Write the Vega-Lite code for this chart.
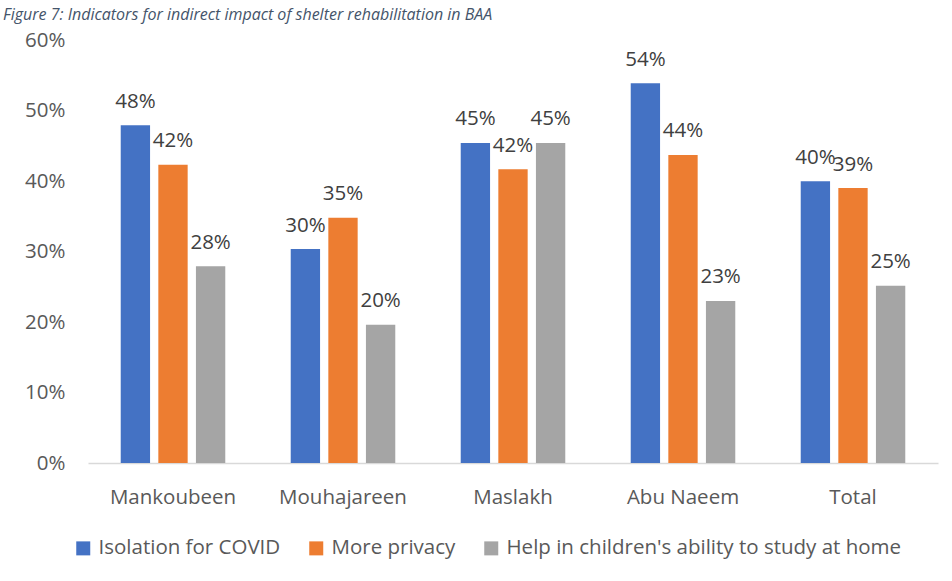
{
  "$schema": "https://vega.github.io/schema/vega-lite/v6.json",
  "width": 850,
  "height": 423,
  "autosize": {"type": "none"},
  "padding": {"left": 88, "top": 40, "right": 14, "bottom": 118},
  "background": "white",
  "title": {
    "text": "Figure 7: Indicators for indirect impact of shelter rehabilitation in BAA",
    "anchor": "start",
    "frame": "group",
    "dx": -85,
    "offset": -6,
    "font": "Open Sans",
    "fontStyle": "italic",
    "fontWeight": "normal",
    "fontSize": 16,
    "color": "#44546A",
    "baseline": "alphabetic"
  },
  "config": {
    "view": {"stroke": null},
    "legend": {
      "orient": "none",
      "legendX": -15,
      "legendY": 498,
      "direction": "horizontal",
      "title": null,
      "symbolType": "square",
      "symbolSize": 196,
      "symbolStrokeWidth": 0,
      "labelFont": "Open Sans",
      "labelFontSize": 20.5,
      "labelColor": "#595959",
      "labelOffset": 5,
      "columnPadding": 25,
      "labelLimit": 600,
      "padding": 0
    }
  },
  "data": {
    "values": [
      {"site": "Mankoubeen", "indicator": "Isolation for COVID", "value": 0.479},
      {"site": "Mankoubeen", "indicator": "More privacy", "value": 0.423},
      {"site": "Mankoubeen", "indicator": "Help in children's ability to study at home", "value": 0.279},
      {"site": "Mouhajareen", "indicator": "Isolation for COVID", "value": 0.3035},
      {"site": "Mouhajareen", "indicator": "More privacy", "value": 0.348},
      {"site": "Mouhajareen", "indicator": "Help in children's ability to study at home", "value": 0.196},
      {"site": "Maslakh", "indicator": "Isolation for COVID", "value": 0.454},
      {"site": "Maslakh", "indicator": "More privacy", "value": 0.4165},
      {"site": "Maslakh", "indicator": "Help in children's ability to study at home", "value": 0.454},
      {"site": "Abu Naeem", "indicator": "Isolation for COVID", "value": 0.5385},
      {"site": "Abu Naeem", "indicator": "More privacy", "value": 0.437},
      {"site": "Abu Naeem", "indicator": "Help in children's ability to study at home", "value": 0.2298},
      {"site": "Total", "indicator": "Isolation for COVID", "value": 0.3995},
      {"site": "Total", "indicator": "More privacy", "value": 0.39},
      {"site": "Total", "indicator": "Help in children's ability to study at home", "value": 0.2515}
    ]
  },
  "encoding": {
    "x": {
      "field": "site",
      "type": "nominal",
      "sort": ["Mankoubeen", "Mouhajareen", "Maslakh", "Abu Naeem", "Total"],
      "scale": {"paddingInner": 0.385, "paddingOuter": 0.1925},
      "axis": {
        "title": null,
        "labelAngle": 0,
        "ticks": false,
        "domainColor": "#d9d9d9",
        "domainWidth": 1.5,
        "labelPadding": 24,
        "labelFont": "Open Sans",
        "labelFontSize": 20.5,
        "labelColor": "#595959"
      }
    },
    "xOffset": {
      "field": "indicator",
      "type": "nominal",
      "sort": ["Isolation for COVID", "More privacy", "Help in children's ability to study at home"],
      "scale": {"paddingInner": 0.22, "paddingOuter": 0}
    },
    "y": {
      "field": "value",
      "type": "quantitative",
      "scale": {"domain": [0, 0.6], "nice": false},
      "axis": {
        "title": null,
        "values": [0, 0.1, 0.2, 0.3, 0.4, 0.5, 0.6],
        "format": ".0%",
        "domain": false,
        "ticks": false,
        "grid": false,
        "labelPadding": 23,
        "labelFont": "Open Sans",
        "labelFontSize": 20.5,
        "labelColor": "#595959"
      }
    }
  },
  "layer": [
    {
      "mark": {"type": "bar"},
      "encoding": {
        "color": {
          "field": "indicator",
          "type": "nominal",
          "sort": ["Isolation for COVID", "More privacy", "Help in children's ability to study at home"],
          "scale": {
            "domain": ["Isolation for COVID", "More privacy", "Help in children's ability to study at home"],
            "range": ["#4472C4", "#ED7D31", "#A5A5A5"]
          },
          "legend": {"title": null}
        }
      }
    },
    {
      "mark": {
        "type": "text",
        "baseline": "alphabetic",
        "align": "center",
        "dy": -17.5,
        "font": "Open Sans",
        "fontSize": 20.5,
        "color": "#404040"
      },
      "encoding": {
        "text": {"field": "value", "type": "quantitative", "format": ".0%"}
      }
    }
  ]
}
